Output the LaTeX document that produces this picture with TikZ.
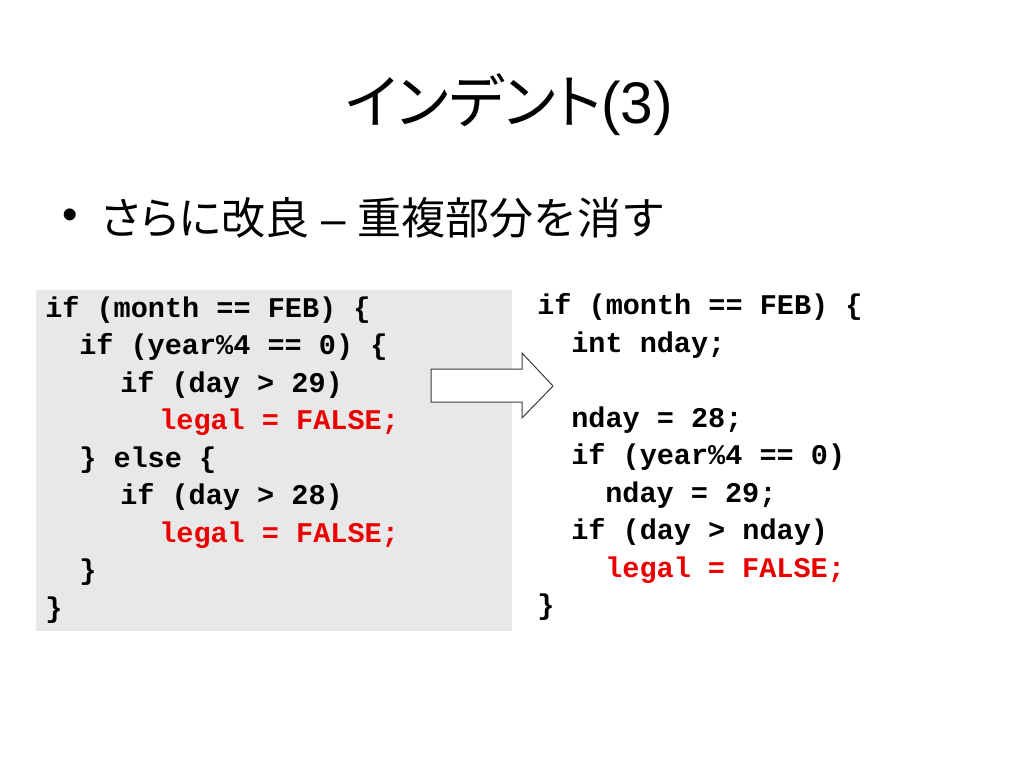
\documentclass[tikz,border=0pt]{standalone}
\usepackage{fontspec}
\setmainfont{Liberation Sans}
\setmonofont{Liberation Mono}
\newfontfamily\cjk{Noto Sans CJK JP}
\newfontfamily\cjkp[RawFeature=+palt]{Noto Sans CJK JP}
\definecolor{boxgray}{RGB}{232,232,232}
\definecolor{codered}{RGB}{235,0,0}
\definecolor{arrowedge}{RGB}{60,60,60}
\begin{document}
\begin{tikzpicture}[x=0.75pt,y=-0.75pt,
  code/.style={anchor=base west, inner sep=0pt, font=\fontsize{21.4}{25}\selectfont\ttfamily\bfseries},
  redcode/.style={code, text=codered},
  plain/.style={anchor=base west, inner sep=0pt},
  arrowshape/.style={draw=arrowedge, fill=white, line width=0.75pt, line join=miter}]
\useasboundingbox (0,0) rectangle (1024,768);
\fill[white] (0,0) rectangle (1024,768);

% title
\node[plain, font=\fontsize{44}{52}\selectfont] (title) at (345,123) {{\cjkp インデント}(3)};

% bullet
\node[plain, font=\fontsize{33}{40}\selectfont] (dot) at (62,229) {•};
\node[plain, font=\fontsize{33}{40}\selectfont] (point) at (101,234) {{\cjkp さらに改良} – {\cjk 重複部分を消す}};

% left code box
\node[fill=boxgray, inner sep=0pt, minimum width=357pt, minimum height=255.75pt, anchor=north west] (leftbox) at (36,290) {};
\node[code] (l1) at (45,317) {if (month == FEB) \{};
\node[code] (l2) at (79,354.5) {if (year\%4 == 0) \{};
\node[code] (l3) at (120,392) {if (day > 29)};
\node[redcode] (l4) at (159,429.5) {legal = FALSE;};
\node[code] (l5) at (79,467) {\} else \{};
\node[code] (l6) at (120,504.5) {if (day > 28)};
\node[redcode] (l7) at (159,542) {legal = FALSE;};
\node[code] (l8) at (79,579.5) {\}};
\node[code] (l9) at (45,617) {\}};

% arrow
\draw[arrowshape] (431,369) -- (522,369) -- (522,353) -- (553,386) -- (522,418) -- (522,402) -- (431,402) -- cycle;

% right code
\node[code] (r1) at (537,314.5) {if (month == FEB) \{};
\node[code] (r2) at (571,352) {int nday;};
\node[code] (r4) at (571,427) {nday = 28;};
\node[code] (r5) at (571,464.5) {if (year\%4 == 0)};
\node[code] (r6) at (605,502) {nday = 29;};
\node[code] (r7) at (571,539.5) {if (day > nday)};
\node[redcode] (r8) at (605,577) {legal = FALSE;};
\node[code] (r9) at (537,614.5) {\}};
\end{tikzpicture}
\end{document}
